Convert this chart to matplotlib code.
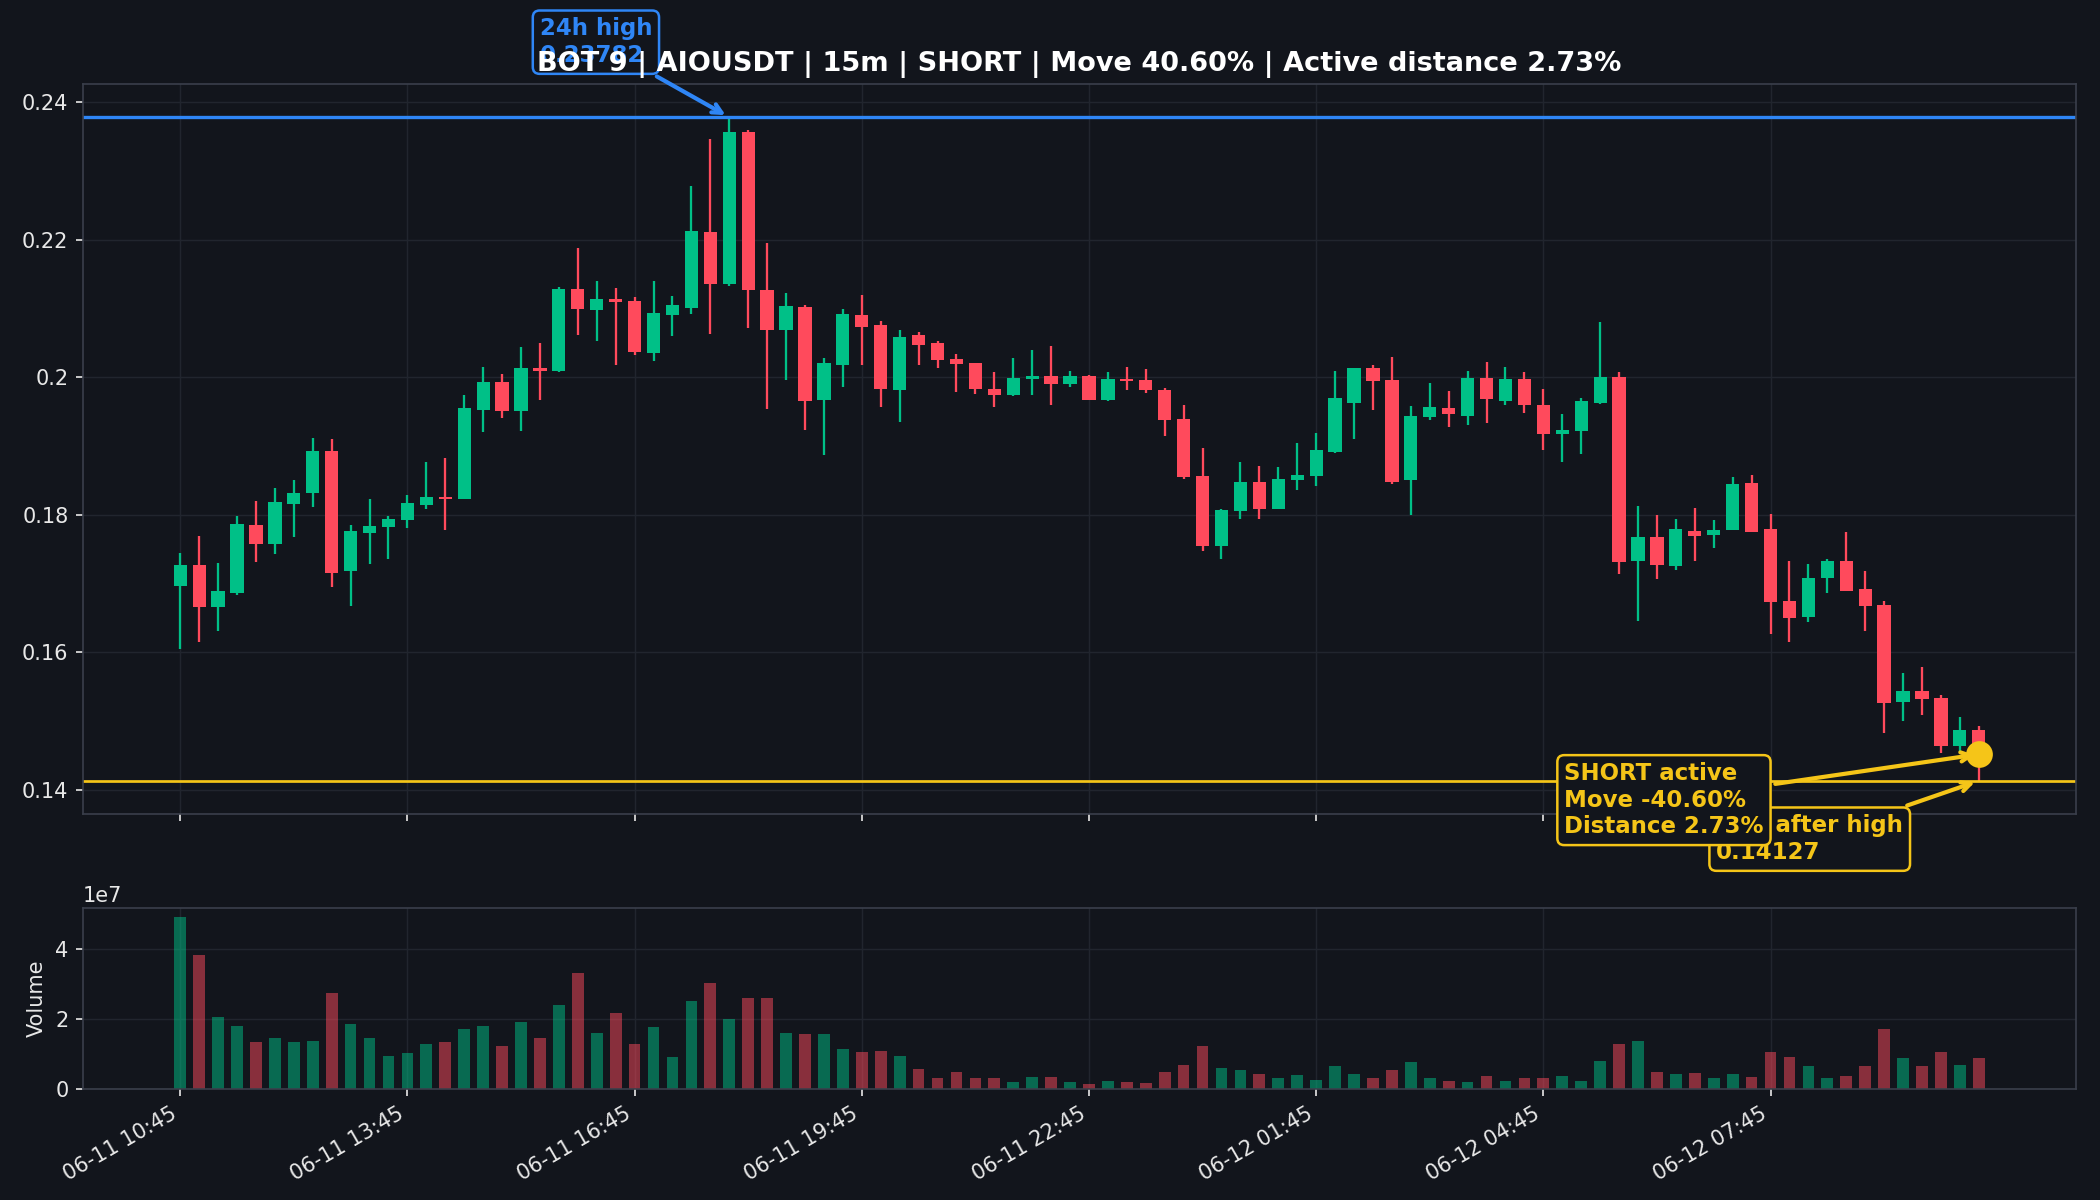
"""15m candlestick chart with volume panel for a short-signal bot."""

import matplotlib
matplotlib.use("Agg")
import matplotlib.pyplot as plt
from matplotlib.ticker import FuncFormatter
import numpy as np
import pandas as pd

BG = "#12151c"
UP = "#00c087"
DOWN = "#ff4a5c"
GRID = "#21252e"
SPINE = "#3a3f4b"
TEXT = "#e8e8e8"
BLUE = "#2f86f6"
YELLOW = "#f5c518"

start_time = "2025-06-11 10:45"
n_candles = 96

opens = [0.1696, 0.1727, 0.1666, 0.1686, 0.1785, 0.1757, 0.1815, 0.1831, 0.1893, 0.1718,
         0.1773, 0.1782, 0.1792, 0.1814, 0.1826, 0.1822, 0.1952, 0.1993, 0.1951, 0.2013,
         0.2009, 0.2128, 0.2098, 0.2113, 0.2111, 0.2035, 0.2091, 0.2101, 0.2211, 0.2136,
         0.2356, 0.2127, 0.2068, 0.2102, 0.1967, 0.2017, 0.2090, 0.2076, 0.1981, 0.2061,
         0.2049, 0.2026, 0.2020, 0.1983, 0.1974, 0.1998, 0.2002, 0.1990, 0.2001, 0.1967,
         0.1997, 0.1996, 0.1982, 0.1939, 0.1856, 0.1754, 0.1805, 0.1847, 0.1808, 0.1850,
         0.1856, 0.1891, 0.1963, 0.2013, 0.1996, 0.1850, 0.1942, 0.1955, 0.1944, 0.1999,
         0.1966, 0.1997, 0.1960, 0.1918, 0.1921, 0.1963, 0.2000, 0.1732, 0.1768, 0.1725,
         0.1776, 0.1771, 0.1777, 0.1846, 0.1779, 0.1674, 0.1651, 0.1708, 0.1732, 0.1692,
         0.1669, 0.1527, 0.1543, 0.1533, 0.1463, 0.1487]
highs = [0.1744, 0.1769, 0.1730, 0.1798, 0.1820, 0.1838, 0.1851, 0.1912, 0.1910, 0.1785,
         0.1823, 0.1798, 0.1829, 0.1876, 0.1882, 0.1974, 0.2015, 0.2004, 0.2044, 0.2049,
         0.2131, 0.2188, 0.2140, 0.2130, 0.2117, 0.2140, 0.2118, 0.2278, 0.2347, 0.23782,
         0.2360, 0.2195, 0.2123, 0.2105, 0.2028, 0.2099, 0.2119, 0.2081, 0.2069, 0.2066,
         0.2053, 0.2034, 0.2020, 0.2007, 0.2028, 0.2040, 0.2046, 0.2009, 0.2003, 0.2008,
         0.2015, 0.2012, 0.1984, 0.1960, 0.1897, 0.1808, 0.1876, 0.1871, 0.1869, 0.1904,
         0.1919, 0.2009, 0.2013, 0.2018, 0.2029, 0.1958, 0.1991, 0.1980, 0.2009, 0.2022,
         0.2015, 0.2007, 0.1983, 0.1947, 0.1970, 0.2080, 0.2007, 0.1813, 0.1800, 0.1793,
         0.1810, 0.1792, 0.1855, 0.1858, 0.1801, 0.1732, 0.1728, 0.1735, 0.1775, 0.1718,
         0.1675, 0.1569, 0.1579, 0.1538, 0.1505, 0.1492]
lows = [0.1605, 0.1614, 0.1631, 0.1683, 0.1731, 0.1742, 0.1767, 0.1811, 0.1694, 0.1667,
        0.1728, 0.1735, 0.1780, 0.1808, 0.1777, 0.1822, 0.1920, 0.1941, 0.1922, 0.1967,
        0.2007, 0.2061, 0.2053, 0.2018, 0.2032, 0.2024, 0.2060, 0.2092, 0.2063, 0.2133,
        0.2072, 0.1953, 0.1996, 0.1923, 0.1886, 0.1985, 0.2018, 0.1957, 0.1935, 0.2017,
        0.2014, 0.1979, 0.1976, 0.1956, 0.1973, 0.1974, 0.1960, 0.1986, 0.1967, 0.1965,
        0.1981, 0.1977, 0.1914, 0.1852, 0.1747, 0.1735, 0.1794, 0.1793, 0.1808, 0.1836,
        0.1841, 0.1889, 0.1910, 0.1952, 0.1844, 0.1800, 0.1938, 0.1928, 0.1930, 0.1934,
        0.1960, 0.1948, 0.1894, 0.1876, 0.1888, 0.1961, 0.1714, 0.1645, 0.1707, 0.1719,
        0.1733, 0.1751, 0.1777, 0.1774, 0.1626, 0.1615, 0.1644, 0.1686, 0.1689, 0.1630,
        0.1482, 0.1500, 0.1508, 0.1453, 0.1455, 0.14127]
closes = [0.1727, 0.1666, 0.1689, 0.1787, 0.1757, 0.1819, 0.1832, 0.1892, 0.1715, 0.1776,
          0.1784, 0.1794, 0.1817, 0.1825, 0.1823, 0.1955, 0.1993, 0.1951, 0.2013, 0.2009,
          0.2128, 0.2099, 0.2114, 0.2109, 0.2037, 0.2093, 0.2105, 0.2213, 0.2135, 0.2357,
          0.2127, 0.2068, 0.2104, 0.1966, 0.2020, 0.2092, 0.2073, 0.1983, 0.2059, 0.2047,
          0.2025, 0.2019, 0.1983, 0.1974, 0.1999, 0.2002, 0.1990, 0.2001, 0.1967, 0.1998,
          0.1995, 0.1981, 0.1937, 0.1854, 0.1754, 0.1806, 0.1847, 0.1808, 0.1852, 0.1857,
          0.1894, 0.1969, 0.2013, 0.1994, 0.1847, 0.1943, 0.1956, 0.1946, 0.1999, 0.1968,
          0.1997, 0.1959, 0.1918, 0.1923, 0.1965, 0.2000, 0.1731, 0.1768, 0.1726, 0.1779,
          0.1769, 0.1777, 0.1845, 0.1775, 0.1673, 0.1649, 0.1708, 0.1732, 0.1689, 0.1667,
          0.1526, 0.1543, 0.1532, 0.1464, 0.1487, 0.14513]
# volume in units of 1e7
volumes = [4.93, 3.84, 2.06, 1.80, 1.33, 1.45, 1.35, 1.37, 2.74, 1.87,
           1.47, 0.95, 1.03, 1.29, 1.35, 1.71, 1.79, 1.22, 1.91, 1.47,
           2.40, 3.33, 1.59, 2.16, 1.29, 1.78, 0.91, 2.53, 3.03, 2.01,
           2.60, 2.60, 1.59, 1.56, 1.56, 1.14, 1.06, 1.09, 0.93, 0.57,
           0.31, 0.49, 0.31, 0.31, 0.20, 0.34, 0.33, 0.19, 0.14, 0.23,
           0.21, 0.18, 0.49, 0.68, 1.23, 0.60, 0.54, 0.43, 0.31, 0.40,
           0.27, 0.65, 0.43, 0.31, 0.54, 0.77, 0.31, 0.23, 0.20, 0.37,
           0.23, 0.31, 0.31, 0.37, 0.23, 0.80, 1.29, 1.36, 0.49, 0.43,
           0.45, 0.31, 0.43, 0.34, 1.06, 0.91, 0.65, 0.31, 0.37, 0.65,
           1.71, 0.88, 0.65, 1.06, 0.68, 0.88]

high_24h = 0.23782
high_index = 29
low_after_high = 0.14127
current_price = 0.14513
title = "BOT 9 | AIOUSDT | 15m | SHORT | Move 40.60% | Active distance 2.73%"

times = pd.date_range(start_time, periods=n_candles, freq="15min")
x = np.arange(n_candles)
o = np.array(opens)
h = np.array(highs)
l = np.array(lows)
c = np.array(closes)
v = np.array(volumes) * 1e7
colors = np.where(c >= o, UP, DOWN)

fig = plt.figure(figsize=(14, 8), dpi=150, facecolor=BG)
ax = fig.add_axes([83 / 2100, 1 - 814 / 1200, 1993 / 2100, 730 / 1200])
axv = fig.add_axes([83 / 2100, 1 - 1089 / 1200, 1993 / 2100, 181 / 1200], sharex=ax)

for a in (ax, axv):
    a.set_facecolor(BG)
    a.grid(True, color=GRID, lw=0.7)
    a.set_axisbelow(True)
    for s in a.spines.values():
        s.set_color(SPINE)
    a.tick_params(colors=TEXT, labelsize=10)

# candles
ax.vlines(x, l, h, colors=colors, lw=1.1, zorder=2)
body = np.maximum(np.abs(c - o), 0.00025)
ax.bar(x, body, bottom=np.minimum(o, c), width=0.7, color=colors, zorder=3)
ax.yaxis.set_major_formatter(FuncFormatter(lambda val, pos: f"{val:g}"))

ax.axhline(high_24h, color=BLUE, lw=1.6, zorder=2)
ax.axhline(low_after_high, color=YELLOW, lw=1.3, zorder=2)

ax.annotate("24h high\n0.23782", xy=(high_index, high_24h), xytext=(-91, 36),
            textcoords="offset points", ha="left", va="center", color=BLUE,
            fontsize=11, fontweight="bold", annotation_clip=False,
            bbox=dict(boxstyle="round,pad=0.3", fc=BG, ec=BLUE, lw=1.2),
            arrowprops=dict(arrowstyle="->", color=BLUE, lw=2))

ax.annotate("Low after high\n0.14127", xy=(x[-1], low_after_high), xytext=(-126, -28),
            textcoords="offset points", ha="left", va="center", color=YELLOW,
            fontsize=11, fontweight="bold", annotation_clip=False, zorder=5,
            bbox=dict(boxstyle="round,pad=0.3", fc=BG, ec=YELLOW, lw=1.2),
            arrowprops=dict(arrowstyle="->", color=YELLOW, lw=2))
ax.annotate("SHORT active\nMove -40.60%\nDistance 2.73%", xy=(x[-1], current_price),
            xytext=(-199, -22), textcoords="offset points", ha="left", va="center",
            color=YELLOW, fontsize=11, fontweight="bold", annotation_clip=False, zorder=6,
            bbox=dict(boxstyle="round,pad=0.3", fc=BG, ec=YELLOW, lw=1.2),
            arrowprops=dict(arrowstyle="->", color=YELLOW, lw=2))
ax.scatter([x[-1]], [current_price], s=140, color=YELLOW, zorder=7)

ax.set_title(title, color="white", fontsize=13, fontweight="bold")
plt.setp(ax.get_xticklabels(), visible=False)

# volume
axv.bar(x, v, width=0.62, color=colors, alpha=0.5)
axv.set_ylabel("Volume", color=TEXT, fontsize=10)
axv.yaxis.get_offset_text().set_color(TEXT)

tick_pos = x[::12]
axv.set_xticks(tick_pos)
axv.set_xticklabels(times[::12].strftime("%m-%d %H:%M"), rotation=30, ha="right")

fig.savefig("out.png", dpi=150, facecolor=BG)
